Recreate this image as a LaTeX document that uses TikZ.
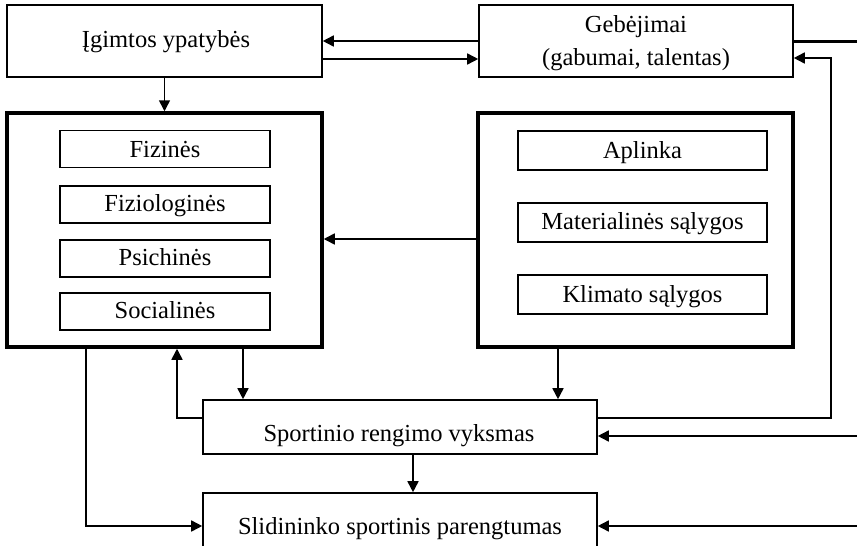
\documentclass[tikz,border=0pt]{standalone}
\usepackage{fontspec}
\setmainfont{Liberation Serif}
\usetikzlibrary{arrows.meta}
\begin{document}
\begin{tikzpicture}[x=1pt,y=-1pt,
  box/.style={draw,line width=1.6pt,inner sep=0pt},
  bigbox/.style={draw,line width=3.5pt,inner sep=0pt,minimum width=315pt,minimum height=234pt},
  inl/.style={draw,line width=1.6pt,inner sep=0pt,minimum width=210pt,minimum height=37pt},
  inr/.style={draw,line width=1.6pt,inner sep=0pt,minimum width=249pt,minimum height=39pt},
  txt/.style={anchor=base,inner sep=0pt,font=\fontsize{24.5}{29}\selectfont},
  conn/.style={line width=1.6pt},
  arr/.style={conn,-{Triangle[length=11pt,width=11pt]}},
]
\clip (0,0) rectangle (857,546);
\fill[white] (0,0) rectangle (857,546);

% top boxes
\node[box,minimum width=315pt,minimum height=72pt] (igm) at (164.5,41) {};
\node[txt] (tigm) at (166,47) {Įgimtos ypatybės};
\node[box,minimum width=314pt,minimum height=72pt] (geb) at (636,41) {};
\node[txt] (tgeb1) at (636,32) {Gebėjimai};
\node[txt] (tgeb2) at (636,65) {(gabumai, talentas)};

% big boxes
\node[bigbox] (lbox) at (164.5,230) {};
\node[bigbox] (rbox) at (635.5,230) {};

% inner left
\node[inl] (fiz) at (165,149) {};
\node[txt] (tfiz) at (165,157) {Fizinės};
\node[inl] (fiziol) at (165,204.5) {};
\node[txt] (tfiziol) at (165,211) {Fiziologinės};
\node[inl] (psich) at (165,258.5) {};
\node[txt] (tpsich) at (165,265) {Psichinės};
\node[inl] (soc) at (165,311.5) {};
\node[txt] (tsoc) at (165,318) {Socialinės};

% inner right
\node[inr] (apl) at (642.5,150.5) {};
\node[txt] (tapl) at (642.5,158) {Aplinka};
\node[inr] (mat) at (642.5,222.5) {};
\node[txt] (tmat) at (642.5,229.5) {Materialinės sąlygos};
\node[inr] (klim) at (642.5,294.5) {};
\node[txt] (tklim) at (642.5,302) {Klimato sąlygos};

% bottom boxes
\node[box,minimum width=394pt,minimum height=54pt] (sport) at (400,427) {};
\node[txt] (tsport) at (399,441) {Sportinio rengimo vyksmas};
\node[box,minimum width=394pt,minimum height=66pt] (slid) at (400,526) {};
\node[txt] (tslid) at (400,534) {Slidininko sportinis parengtumas};

% coordinates
\coordinate (redge1) at (860,41);
\coordinate (fbx) at (831,0);
\coordinate (gebin) at ([yshift=-17pt]geb.east);
\coordinate (sportout) at ([yshift=9pt]sport.east);
\coordinate (rin1) at (860,436);
\coordinate (rin2) at (860,526);
\coordinate (lx1) at (86,0);
\coordinate (lup) at ([xshift=12.5pt]lbox.south);
\coordinate (ldown) at ([xshift=78.5pt]lbox.south);
\coordinate (rdown) at ([xshift=-77.5pt]rbox.south);
\coordinate (sportback) at ([yshift=9pt]sport.west);

% connectors top
\draw[arr] (geb.west) -- (igm.east);
\draw[arr] ([yshift=-18pt]igm.east) -- ([yshift=-18pt]geb.west);
\draw[line width=3pt] (geb.east) -- (redge1);
\draw[arr] (sportout) -| (fbx |- gebin) -- (gebin);
\draw[arr] (igm.south) -- (lbox.north);
\draw[arr] ([yshift=-9pt]rbox.west) -- ([yshift=-9pt]lbox.east);

% connectors bottom
\draw[arr] (sportback) -| (lup);
\draw[arr] (ldown) -- (ldown |- sport.north);
\draw[arr] (rdown) -- (rdown |- sport.north);
\draw[arr] ([xshift=13pt]sport.south) -- ([xshift=13pt]sport.south |- slid.north);
\draw[arr] (lx1 |- lbox.south) |- (slid.west);
\draw[arr] (rin1) -- (sport.east |- rin1);
\draw[arr] (rin2) -- (slid.east |- rin2);
\end{tikzpicture}
\end{document}
